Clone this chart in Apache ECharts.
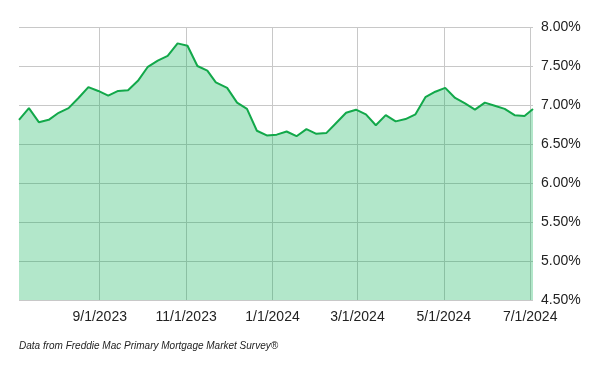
<!DOCTYPE html>
<html>
<head>
<meta charset="utf-8">
<script src="https://cdn.jsdelivr.net/npm/echarts@6/dist/echarts.min.js"></script>
<style>html,body{margin:0;padding:0;background:#fff}#c{width:600px;height:371px}</style>
</head>
<body>
<div id="c"></div>
<script>
const dates = ['2023-07-06','2023-07-13','2023-07-20','2023-07-27','2023-08-03','2023-08-10','2023-08-17','2023-08-24','2023-08-31',
'2023-09-07','2023-09-14','2023-09-21','2023-09-28','2023-10-05','2023-10-12','2023-10-19','2023-10-26','2023-11-02','2023-11-09',
'2023-11-16','2023-11-22','2023-11-30','2023-12-07','2023-12-14','2023-12-21','2023-12-28','2024-01-04','2024-01-11','2024-01-18',
'2024-01-25','2024-02-01','2024-02-08','2024-02-15','2024-02-22','2024-02-29','2024-03-07','2024-03-14','2024-03-21','2024-03-28',
'2024-04-04','2024-04-11','2024-04-18','2024-04-25','2024-05-02','2024-05-09','2024-05-16','2024-05-23','2024-05-30','2024-06-06',
'2024-06-13','2024-06-20','2024-06-27','2024-07-03'];
const rates = [6.81,6.96,6.78,6.81,6.90,6.96,7.09,7.23,7.18,
7.12,7.18,7.19,7.31,7.49,7.57,7.63,7.79,7.76,7.50,
7.44,7.29,7.22,7.03,6.95,6.67,6.61,6.62,6.66,6.60,
6.69,6.63,6.64,6.77,6.90,6.94,6.88,6.74,6.87,6.79,
6.82,6.88,7.10,7.17,7.22,7.09,7.02,6.94,7.03,6.99,
6.95,6.87,6.86,6.95];
const tickDates = ['2023-09-01','2023-11-01','2024-01-01','2024-03-01','2024-05-01','2024-07-01'];
const yMin = 4.5, yMax = 8.0, yStep = 0.5;
const footnote = 'Data from Freddie Mac Primary Mortgage Market Survey\u00ae';

function toTs(s){const p=s.split('-').map(Number);return Date.UTC(p[0],p[1]-1,p[2]);}
const seriesData = dates.map((d,i)=>[toTs(d), rates[i]]);
const tickValues = tickDates.map(toTs);

const chart = echarts.init(document.getElementById('c'), null, {renderer:'canvas'});
chart.setOption({
  animation:false,
  backgroundColor:'#fff',
  grid:{left:19, right:67, top:27, bottom:71, containLabel:false},
  xAxis:{
    type:'value',
    min: toTs(dates[0]),
    max: toTs(dates[dates.length-1]),
    axisLine:{show:false},
    axisTick:{show:false, customValues: tickValues},
    splitLine:{show:true, lineStyle:{color:'#c8c8c8', width:1}},
    axisLabel:{
      customValues: tickValues,
      color:'#222', fontFamily:'Liberation Sans, Arial', fontSize:14, margin:10,
      hideOverlap:false,
      formatter:function(v){const d=new Date(v);return (d.getUTCMonth()+1)+'/'+d.getUTCDate()+'/'+d.getUTCFullYear();}
    }
  },
  yAxis:{
    type:'value',
    position:'right',
    min:yMin, max:yMax, interval:yStep,
    axisLine:{show:false},
    axisTick:{show:false},
    splitLine:{show:true, lineStyle:{color:'#c8c8c8', width:1}},
    axisLabel:{
      color:'#222', fontFamily:'Liberation Sans, Arial', fontSize:14, margin:8,
      formatter:function(v){return v.toFixed(2)+'%';}
    }
  },
  series:[{
    type:'line',
    data:seriesData,
    showSymbol:false,
    symbol:'none',
    lineStyle:{color:'#12a84a', width:2},
    areaStyle:{color:'#00b050', opacity:0.3},
    z:3
  }],
  graphic:[{
    type:'text', left:19, top:341,
    style:{text:footnote, fill:'#222', font:'italic 10px "Liberation Sans", Arial'}
  }]
});
</script>
</body>
</html>
